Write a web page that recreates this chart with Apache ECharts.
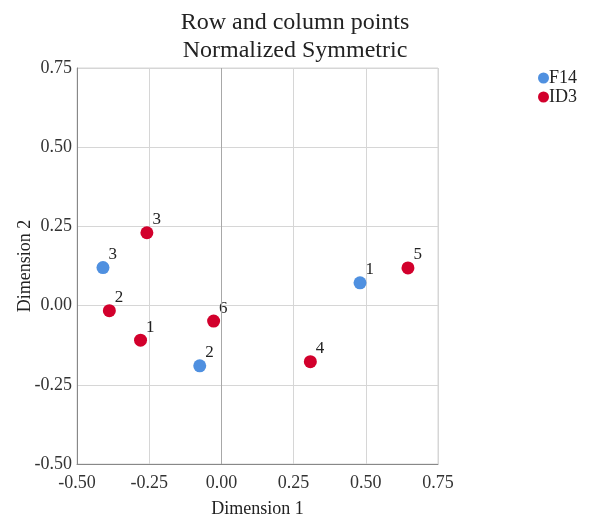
<!DOCTYPE html>
<html>
<head>
<meta charset="utf-8">
<script src="https://cdn.jsdelivr.net/npm/echarts@6/dist/echarts.min.js"></script>
<style>
  html, body { margin: 0; padding: 0; background: #fff; }
  #main { width: 591px; height: 517px; }
</style>
</head>
<body>
<div id="main"></div>
<script>
// column points (F14)
var f14Labels = ['1', '2', '3'];
var f14X = [0.48, -0.075, -0.41];
var f14Y = [0.072, -0.19, 0.12];
// row points (ID3)
var id3Labels = ['1', '2', '3', '4', '5', '6'];
var id3X = [-0.28, -0.388, -0.258, 0.308, 0.646, -0.027];
var id3Y = [-0.109, -0.016, 0.23, -0.177, 0.119, -0.049];

var axisTicks = [-0.5, -0.25, 0, 0.25, 0.5, 0.75];

function pts (xs, ys, labels) {
  return xs.map(function (x, i) { return [x, ys[i], labels[i]]; });
}

var font = 'Liberation Serif';
var chart = echarts.init(document.getElementById('main'));

var option = {
  backgroundColor: '#fff',
  animation: false,
  title: {
    text: 'Row and column points\nNormalized Symmetric',
    left: 290,
    top: 4,
    textAlign: 'center',
    textStyle: {
      fontFamily: font,
      fontSize: 24,
      fontWeight: 'normal',
      color: '#222',
      lineHeight: 28
    }
  },
  legend: {
    orient: 'vertical',
    left: 533,
    top: 64,
    itemWidth: 11,
    itemHeight: 11,
    itemGap: 1,
    icon: 'circle',
    textStyle: { fontFamily: font, fontSize: 18, color: '#222', padding: [0, 0, 0, -5] },
    data: ['F14', 'ID3']
  },
  grid: {
    left: 77,
    right: 153,
    top: 68,
    bottom: 53,
    outerBoundsMode: 'none', // keep the grid where it is set
    show: true,
    borderColor: '#d6d6d6',
    borderWidth: 1
  },
  xAxis: {
    type: 'value',
    min: axisTicks[0],
    max: axisTicks[axisTicks.length - 1],
    interval: 0.25,
    name: 'Dimension 1',
    nameLocation: 'middle',
    nameGap: 36,
    nameMoveOverlap: false,
    nameTextStyle: { fontFamily: font, fontSize: 18, color: '#222' },
    axisLine: { show: true, onZero: false, lineStyle: { color: '#888' } },
    axisTick: { show: false },
    splitLine: { lineStyle: { color: '#d6d6d6' } },
    axisLabel: {
      fontFamily: font, fontSize: 18, color: '#333', margin: 10,
      formatter: function (v) { return v.toFixed(2); }
    }
  },
  yAxis: {
    type: 'value',
    min: axisTicks[0],
    max: axisTicks[axisTicks.length - 1],
    interval: 0.25,
    name: 'Dimension 2',
    nameLocation: 'middle',
    nameGap: 43,
    nameMoveOverlap: false,
    nameTextStyle: { fontFamily: font, fontSize: 18, color: '#222' },
    axisLine: { show: true, onZero: false, lineStyle: { color: '#888' } },
    axisTick: { show: false },
    splitLine: { lineStyle: { color: '#d6d6d6' } },
    axisLabel: {
      fontFamily: font, fontSize: 18, color: '#333', margin: 5,
      formatter: function (v) { return v.toFixed(2); }
    }
  },
  series: [
    {
      name: 'F14',
      type: 'scatter',
      symbolSize: 13,
      itemStyle: { color: '#4f90e0', opacity: 1 },
      label: {
        show: true,
        position: [12, -15],
        fontFamily: font,
        fontSize: 17,
        color: '#222',
        formatter: function (p) { return p.data[2]; }
      },
      // darker reference line at x = 0
      markLine: {
        silent: true,
        symbol: 'none',
        label: { show: false },
        lineStyle: { color: '#a8a8a8', type: 'solid', width: 1 },
        data: [{ xAxis: 0 }]
      },
      data: pts(f14X, f14Y, f14Labels)
    },
    {
      name: 'ID3',
      type: 'scatter',
      symbolSize: 13,
      itemStyle: { color: '#d2002c', opacity: 1 },
      label: {
        show: true,
        position: [12, -15],
        fontFamily: font,
        fontSize: 17,
        color: '#222',
        formatter: function (p) { return p.data[2]; }
      },
      data: pts(id3X, id3Y, id3Labels)
    }
  ]
};

chart.setOption(option);
</script>
</body>
</html>
